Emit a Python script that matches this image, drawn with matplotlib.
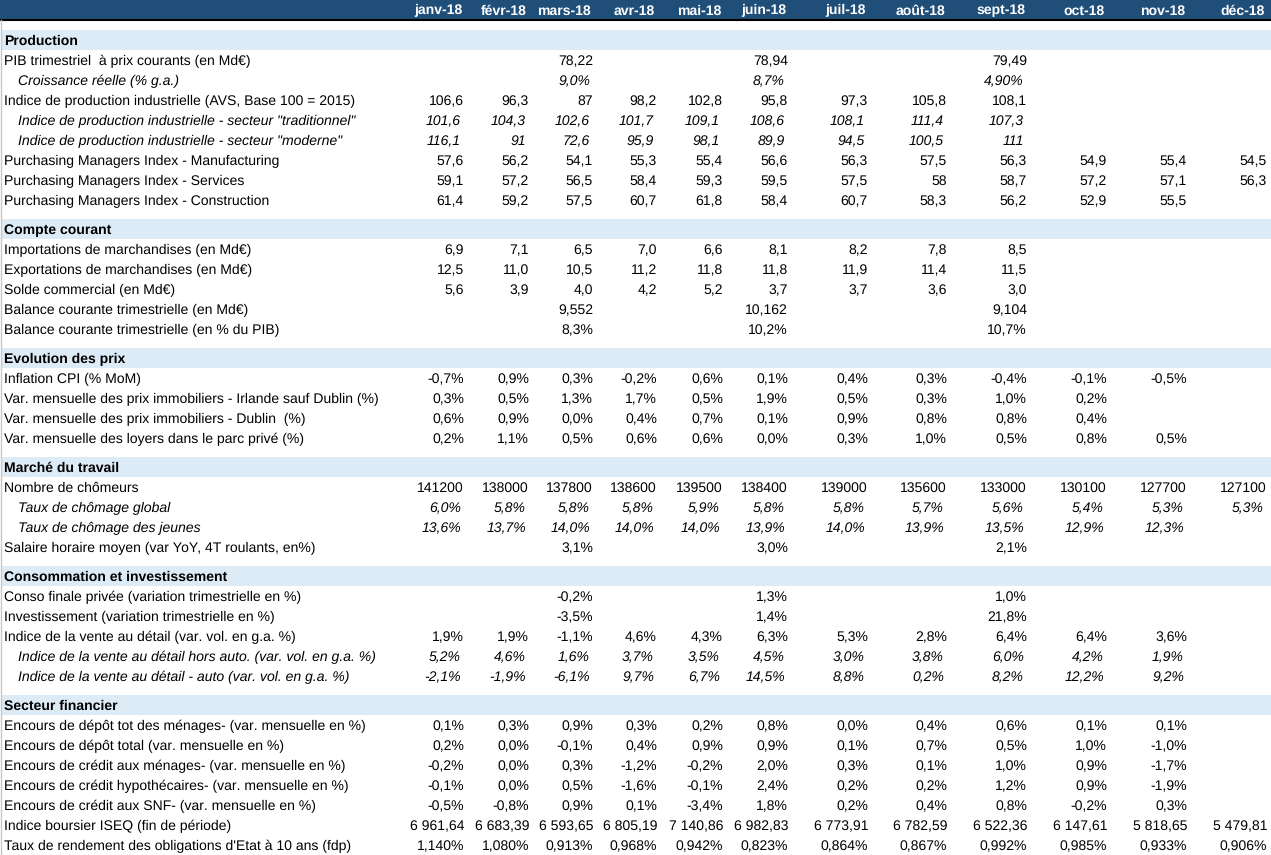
import matplotlib
matplotlib.use("Agg")
import matplotlib.pyplot as plt
from matplotlib import font_manager

months = ["janv-18", "févr-18", "mars-18", "avr-18", "mai-18", "juin-18",
          "juil-18", "août-18", "sept-18", "oct-18", "nov-18", "déc-18"]

production_labels = [
    "PIB trimestriel  à prix courants (en Md€)",
    "Croissance réelle (% g.a.)",
    "Indice de production industrielle (AVS, Base 100 = 2015)",
    'Indice de production industrielle - secteur "traditionnel"',
    'Indice de production industrielle - secteur "moderne"',
    "Purchasing Managers Index - Manufacturing",
    "Purchasing Managers Index - Services",
    "Purchasing Managers Index - Construction",
]
production_values = [
    ["", "", "78,22", "", "", "78,94", "", "", "79,49", "", "", ""],
    ["", "", "9,0%", "", "", "8,7%", "", "", "4,90%", "", "", ""],
    ["106,6", "96,3", "87", "98,2", "102,8", "95,8", "97,3", "105,8", "108,1", "", "", ""],
    ["101,6", "104,3", "102,6", "101,7", "109,1", "108,6", "108,1", "111,4", "107,3", "", "", ""],
    ["116,1", "91", "72,6", "95,9", "98,1", "89,9", "94,5", "100,5", "111", "", "", ""],
    ["57,6", "56,2", "54,1", "55,3", "55,4", "56,6", "56,3", "57,5", "56,3", "54,9", "55,4", "54,5"],
    ["59,1", "57,2", "56,5", "58,4", "59,3", "59,5", "57,5", "58", "58,7", "57,2", "57,1", "56,3"],
    ["61,4", "59,2", "57,5", "60,7", "61,8", "58,4", "60,7", "58,3", "56,2", "52,9", "55,5", ""],
]

courant_labels = [
    "Importations de marchandises (en Md€)",
    "Exportations de marchandises (en Md€)",
    "Solde commercial (en Md€)",
    "Balance courante trimestrielle (en Md€)",
    "Balance courante trimestrielle (en % du PIB)",
]
courant_values = [
    ["6,9", "7,1", "6,5", "7,0", "6,6", "8,1", "8,2", "7,8", "8,5", "", "", ""],
    ["12,5", "11,0", "10,5", "11,2", "11,8", "11,8", "11,9", "11,4", "11,5", "", "", ""],
    ["5,6", "3,9", "4,0", "4,2", "5,2", "3,7", "3,7", "3,6", "3,0", "", "", ""],
    ["", "", "9,552", "", "", "10,162", "", "", "9,104", "", "", ""],
    ["", "", "8,3%", "", "", "10,2%", "", "", "10,7%", "", "", ""],
]

prix_labels = [
    "Inflation CPI (% MoM)",
    "Var. mensuelle des prix immobiliers - Irlande sauf Dublin (%)",
    "Var. mensuelle des prix immobiliers - Dublin  (%)",
    "Var. mensuelle des loyers dans le parc privé (%)",
]
prix_values = [
    ["-0,7%", "0,9%", "0,3%", "-0,2%", "0,6%", "0,1%", "0,4%", "0,3%", "-0,4%", "-0,1%", "-0,5%", ""],
    ["0,3%", "0,5%", "1,3%", "1,7%", "0,5%", "1,9%", "0,5%", "0,3%", "1,0%", "0,2%", "", ""],
    ["0,6%", "0,9%", "0,0%", "0,4%", "0,7%", "0,1%", "0,9%", "0,8%", "0,8%", "0,4%", "", ""],
    ["0,2%", "1,1%", "0,5%", "0,6%", "0,6%", "0,0%", "0,3%", "1,0%", "0,5%", "0,8%", "0,5%", ""],
]

travail_labels = [
    "Nombre de chômeurs",
    "Taux de chômage global",
    "Taux de chômage des jeunes",
    "Salaire horaire moyen (var YoY, 4T roulants, en%)",
]
travail_values = [
    ["141200", "138000", "137800", "138600", "139500", "138400", "139000", "135600", "133000", "130100", "127700", "127100"],
    ["6,0%", "5,8%", "5,8%", "5,8%", "5,9%", "5,8%", "5,8%", "5,7%", "5,6%", "5,4%", "5,3%", "5,3%"],
    ["13,6%", "13,7%", "14,0%", "14,0%", "14,0%", "13,9%", "14,0%", "13,9%", "13,5%", "12,9%", "12,3%", ""],
    ["", "", "3,1%", "", "", "3,0%", "", "", "2,1%", "", "", ""],
]

conso_labels = [
    "Conso finale privée (variation trimestrielle en %)",
    "Investissement (variation trimestrielle en %)",
    "Indice de la vente au détail (var. vol. en g.a. %)",
    "Indice de la vente au détail hors auto. (var. vol. en g.a. %)",
    "Indice de la vente au détail - auto (var. vol. en g.a. %)",
]
conso_values = [
    ["", "", "-0,2%", "", "", "1,3%", "", "", "1,0%", "", "", ""],
    ["", "", "-3,5%", "", "", "1,4%", "", "", "21,8%", "", "", ""],
    ["1,9%", "1,9%", "-1,1%", "4,6%", "4,3%", "6,3%", "5,3%", "2,8%", "6,4%", "6,4%", "3,6%", ""],
    ["5,2%", "4,6%", "1,6%", "3,7%", "3,5%", "4,5%", "3,0%", "3,8%", "6,0%", "4,2%", "1,9%", ""],
    ["-2,1%", "-1,9%", "-6,1%", "9,7%", "6,7%", "14,5%", "8,8%", "0,2%", "8,2%", "12,2%", "9,2%", ""],
]

finance_labels = [
    "Encours de dépôt tot des ménages- (var. mensuelle en %)",
    "Encours de dépôt total (var. mensuelle en %)",
    "Encours de crédit aux ménages- (var. mensuelle en %)",
    "Encours de crédit hypothécaires- (var. mensuelle en %)",
    "Encours de crédit aux SNF- (var. mensuelle en %)",
    "Indice boursier ISEQ (fin de période)",
    "Taux de rendement des obligations d'Etat à 10 ans (fdp)",
]
finance_values = [
    ["0,1%", "0,3%", "0,9%", "0,3%", "0,2%", "0,8%", "0,0%", "0,4%", "0,6%", "0,1%", "0,1%", ""],
    ["0,2%", "0,0%", "-0,1%", "0,4%", "0,9%", "0,9%", "0,1%", "0,7%", "0,5%", "1,0%", "-1,0%", ""],
    ["-0,2%", "0,0%", "0,3%", "-1,2%", "-0,2%", "2,0%", "0,3%", "0,1%", "1,0%", "0,9%", "-1,7%", ""],
    ["-0,1%", "0,0%", "0,5%", "-1,6%", "-0,1%", "2,4%", "0,2%", "0,2%", "1,2%", "0,9%", "-1,9%", ""],
    ["-0,5%", "-0,8%", "0,9%", "0,1%", "-3,4%", "1,8%", "0,2%", "0,4%", "0,8%", "-0,2%", "0,3%", ""],
    ["6 961,64", "6 683,39", "6 593,65", "6 805,19", "7 140,86", "6 982,83", "6 773,91", "6 782,59", "6 522,36", "6 147,61", "5 818,65", "5 479,81"],
    ["1,140%", "1,080%", "0,913%", "0,968%", "0,942%", "0,823%", "0,864%", "0,867%", "0,992%", "0,985%", "0,933%", "0,906%"],
]

italic_rows = [
    "Croissance réelle (% g.a.)",
    'Indice de production industrielle - secteur "traditionnel"',
    'Indice de production industrielle - secteur "moderne"',
    "Taux de chômage global",
    "Taux de chômage des jeunes",
    "Indice de la vente au détail hors auto. (var. vol. en g.a. %)",
    "Indice de la vente au détail - auto (var. vol. en g.a. %)",
]

sections = [
    ("Production", production_labels, production_values),
    ("Compte courant", courant_labels, courant_values),
    ("Evolution des prix", prix_labels, prix_values),
    ("Marché du travail", travail_labels, travail_values),
    ("Consommation et investissement", conso_labels, conso_values),
    ("Secteur financier", finance_labels, finance_values),
]

# layout (pixels)
W, H = 1271, 855
col_right = [464, 529, 593, 657, 723, 788, 868, 947, 1027, 1107, 1187, 1267]
row_h = 20
header_h = 20
gap = 9
base = 5  # baseline sits this far below the row centre
dark = "#1F4E79"
light = "#DDEBF7"

available = {f.name for f in font_manager.fontManager.ttflist}
if "Liberation Sans Narrow" in available:
    fam, fs = "Liberation Sans Narrow", 11.2
else:
    fam, fs = "Liberation Sans", 10.3
plt.rcParams["font.family"] = [fam, "DejaVu Sans"]
# without hinting the baselines line up whatever the glyphs
plt.rcParams["text.hinting"] = "none"
plt.rcParams["text.hinting_factor"] = 1

fig = plt.figure(figsize=(W / 100, H / 100), dpi=100)
ax = fig.add_axes([0, 0, 1, 1])
ax.set_xlim(0, W)
ax.set_ylim(H, 0)
ax.axis("off")

# header
ax.add_patch(plt.Rectangle((0, 0), W, header_h, color=dark, lw=0))
ax.plot([0, W], [header_h + 0.5, header_h + 0.5], color="black", lw=1.5)
for m, xr in zip(months, col_right):
    ax.text(xr - 2, header_h / 2 + base - 0.5, m, ha="right", va="baseline",
            color="white", fontsize=fs, fontweight="bold")
ax.plot([0.5, 0.5], [header_h, H], color="#C8C8C8", lw=1)

y = header_h + gap + 1
for title, labels, values in sections:
    ax.add_patch(plt.Rectangle((1, y), W, row_h, color=light, lw=0))
    ax.text(4, y + row_h / 2 + base, title, ha="left", va="baseline",
            fontsize=fs, fontweight="bold", color="black")
    y += row_h
    for lab, vals in zip(labels, values):
        it = lab in italic_rows
        style = "italic" if it else "normal"
        ax.text(18 if it else 4, y + row_h / 2 + base, lab, ha="left",
                va="baseline", fontsize=fs, style=style, color="black")
        for v, xr in zip(vals, col_right):
            if v:
                ax.text(xr - (3 if it else 0), y + row_h / 2 + base, v,
                        ha="right", va="baseline", fontsize=fs, style=style,
                        color="black")
        y += row_h
    y += gap

fig.savefig("out.png", dpi=100)
